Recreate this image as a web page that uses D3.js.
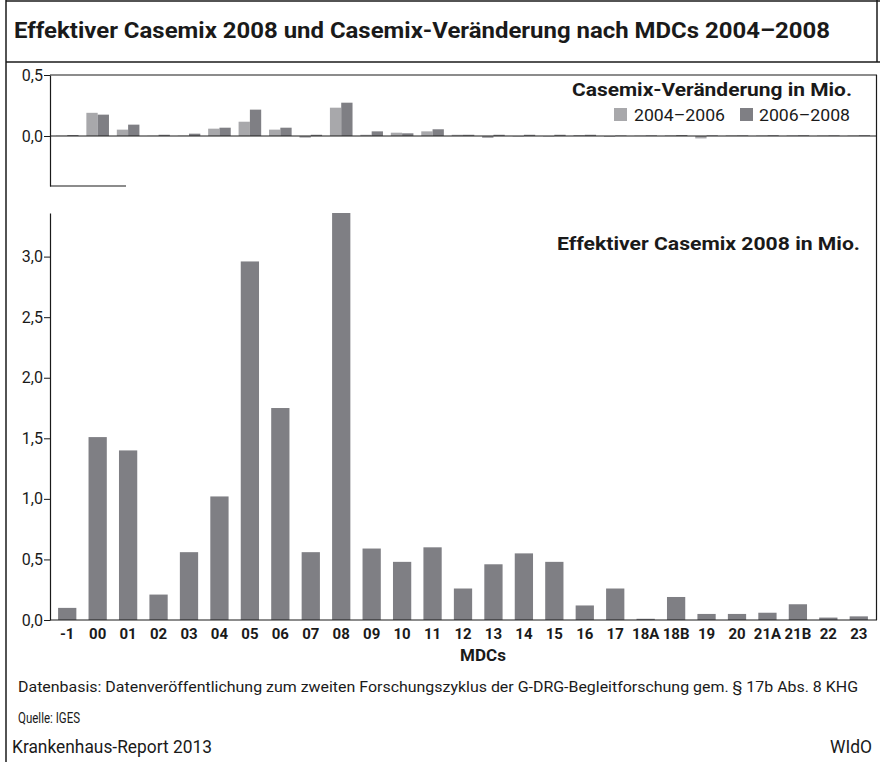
<!DOCTYPE html>
<html>
<head>
<meta charset="utf-8">
<script src="https://cdn.jsdelivr.net/npm/d3@7"></script>
<style>
  html, body { margin: 0; padding: 0; background: #fff; }
  svg { display: block; }
  text { font-family: Roboto, "Noto Sans", sans-serif; fill: #1a1a1a; }
</style>
</head>
<body>
<svg id="chart" width="880" height="762"></svg>
<script>
// MDC categories
const mdcs = ["-1","00","01","02","03","04","05","06","07","08","09","10","11","12","13","14","15","16","17","18A","18B","19","20","21A","21B","22","23"];
// Effective casemix 2008, in millions
const casemix2008 = [0.10,1.51,1.40,0.21,0.56,1.02,2.96,1.75,0.56,3.36,0.59,0.48,0.60,0.26,0.46,0.55,0.48,0.12,0.26,0.01,0.19,0.05,0.05,0.06,0.13,0.02,0.03];
// Casemix change, in millions
const change0406 = [0.002,0.19,0.052,0.002,0.003,0.06,0.117,0.052,-0.014,0.232,0.01,0.027,0.038,0.01,-0.016,-0.004,-0.004,0.008,-0.006,0.003,0.005,-0.02,0.005,0.004,0.005,0.004,0.004];
const change0608 = [0.008,0.175,0.093,0.01,0.019,0.068,0.216,0.068,0.01,0.273,0.038,0.022,0.055,0.01,0.01,0.01,0.01,0.01,0.004,0.005,0.008,0.005,0.005,0.006,0.006,0.005,0.006];
const periods = ["2004–2006", "2006–2008"];
const topTicks = [0, 0.5];
const bottomTicks = [0, 0.5, 1, 1.5, 2, 2.5, 3];

const colLight = "#a8a8ab", colDark = "#7f7f84", ink = "#1a1a1a";
const fmt = v => d3.format(".1f")(v).replace(".", ",");
const fam = "Roboto, 'Noto Sans', sans-serif";

const svg = d3.select("#chart");

// frame
const frame = svg.append("g").attr("stroke", ink).attr("fill", "none");
frame.append("line").attr("x1", 6).attr("x2", 880).attr("y1", 1).attr("y2", 1).attr("stroke-width", 1.5);
frame.append("line").attr("x1", 6).attr("x2", 6).attr("y1", 0).attr("y2", 762).attr("stroke-width", 1.5);
frame.append("line").attr("x1", 6).attr("x2", 880).attr("y1", 62).attr("y2", 62).attr("stroke-width", 1.5);
frame.append("line").attr("x1", 877).attr("x2", 877).attr("y1", 0).attr("y2", 62).attr("stroke-width", 1.5);
frame.append("line").attr("x1", 876.5).attr("x2", 876.5).attr("y1", 75).attr("y2", 620).attr("stroke-width", 1.2);

// title
svg.append("text").attr("x", 14).attr("y", 38)
  .attr("font-size", 22).attr("font-weight", "bold")
  .attr("textLength", 816).attr("lengthAdjust", "spacingAndGlyphs")
  .text("Effektiver Casemix 2008 und Casemix-Veränderung nach MDCs 2004–2008");

// shared category scale
const x = d3.scaleBand().domain(mdcs).range([52, 874]).paddingInner(0.4).paddingOuter(0.2);
const xc = d => x(d) + x.bandwidth() / 2;
const xPair = d3.scaleBand().domain(periods).range([-11.3, 11.3]);

// ---------- top panel: casemix change ----------
const yTop = d3.scaleLinear().domain([-0.41, 0.5]).range([186, 75]);
const topData = mdcs.map((m, i) => ({ m, vals: [change0406[i], change0608[i]] }));

const gTop = svg.append("g");
gTop.append("g").selectAll("g").data(topData).join("g")
  .attr("transform", d => `translate(${xc(d.m)},0)`)
  .selectAll("rect").data(d => d.vals.map((v, k) => ({ v, p: periods[k] }))).join("rect")
  .attr("x", d => xPair(d.p))
  .attr("width", xPair.bandwidth())
  .attr("y", d => yTop(Math.max(0, d.v)))
  .attr("height", d => Math.abs(yTop(d.v) - yTop(0)))
  .attr("fill", (d, k) => k === 0 ? colLight : colDark);

// horizontal rules at 0 and 0,5
gTop.selectAll("line.rule").data(topTicks).join("line").attr("class", "rule")
  .attr("x1", 50).attr("x2", 877).attr("y1", d => yTop(d)).attr("y2", d => yTop(d))
  .attr("stroke", ink).attr("stroke-width", 1.2);

const axTop = gTop.append("g").attr("transform", "translate(50,0)")
  .call(d3.axisLeft(yTop).tickValues(topTicks).tickSize(6).tickSizeOuter(0).tickFormat(fmt));
axTop.select(".domain").attr("stroke", ink).attr("stroke-width", 1.2);
axTop.selectAll(".tick line").attr("stroke", ink);
axTop.selectAll(".tick text").attr("font-size", 16).attr("x", -7).attr("fill", ink).style("font-family", fam);
gTop.append("line").attr("x1", 50).attr("x2", 126).attr("y1", 186).attr("y2", 186)
  .attr("stroke", ink).attr("stroke-width", 1.2);

// top panel heading and legend
svg.append("text").attr("x", 852).attr("y", 96).attr("text-anchor", "end")
  .attr("font-size", 18).attr("font-weight", "bold")
  .attr("textLength", 280).attr("lengthAdjust", "spacingAndGlyphs")
  .text("Casemix-Veränderung in Mio.");
const legendItems = [
  { label: periods[0], col: colLight, sx: 614, tx: 634 },
  { label: periods[1], col: colDark, sx: 740, tx: 759 }
];
const lg = svg.append("g").selectAll("g").data(legendItems).join("g");
lg.append("rect").attr("x", d => d.sx).attr("y", 108).attr("width", 13).attr("height", 13).attr("fill", d => d.col);
lg.append("text").attr("x", d => d.tx).attr("y", 121).attr("font-size", 17)
  .attr("textLength", 91).attr("lengthAdjust", "spacingAndGlyphs")
  .text(d => d.label);

// ---------- bottom panel: effective casemix 2008 ----------
const yBot = d3.scaleLinear().domain([0, d3.max(casemix2008)]).range([620, 213]);
const gBot = svg.append("g");
gBot.selectAll("rect").data(mdcs.map((m, i) => ({ m, v: casemix2008[i] }))).join("rect")
  .attr("x", d => x(d.m)).attr("width", x.bandwidth())
  .attr("y", d => yBot(d.v)).attr("height", d => yBot(0) - yBot(d.v))
  .attr("fill", colDark);

const axBotY = gBot.append("g").attr("transform", "translate(50,0)")
  .call(d3.axisLeft(yBot).tickValues(bottomTicks).tickSize(6).tickSizeOuter(0).tickFormat(fmt));
axBotY.select(".domain").attr("stroke", ink).attr("stroke-width", 1.2);
axBotY.selectAll(".tick line").attr("stroke", ink);
axBotY.selectAll(".tick text").attr("font-size", 16).attr("x", -7).attr("fill", ink).style("font-family", fam);

const axBotX = gBot.append("g").attr("transform", "translate(0,620)")
  .call(d3.axisBottom(x).tickSize(0).tickSizeOuter(0));
axBotX.select(".domain").remove();
gBot.append("line").attr("x1", 50).attr("x2", 877).attr("y1", 620).attr("y2", 620)
  .attr("stroke", ink).attr("stroke-width", 1.2);
axBotX.selectAll(".tick text").attr("font-size", 15).attr("font-weight", "bold")
  .attr("dy", "0").attr("y", 19).attr("fill", ink).style("font-family", fam);

svg.append("text").attr("x", 483).attr("y", 661).attr("text-anchor", "middle")
  .attr("font-size", 17).attr("font-weight", "bold").text("MDCs");

svg.append("text").attr("x", 860).attr("y", 250).attr("text-anchor", "end")
  .attr("font-size", 18).attr("font-weight", "bold")
  .attr("textLength", 303).attr("lengthAdjust", "spacingAndGlyphs")
  .text("Effektiver Casemix 2008 in Mio.");

// footer
svg.append("text").attr("x", 18).attr("y", 692).attr("font-size", 15)
  .attr("textLength", 840).attr("lengthAdjust", "spacingAndGlyphs")
  .text("Datenbasis: Datenveröffentlichung zum zweiten Forschungszyklus der G-DRG-Begleitforschung gem. § 17b Abs. 8 KHG");
svg.append("text").attr("x", 18).attr("y", 723).attr("font-size", 15)
  .attr("textLength", 62).attr("lengthAdjust", "spacingAndGlyphs")
  .text("Quelle: IGES");
svg.append("text").attr("x", 12).attr("y", 753).attr("font-size", 19)
  .attr("textLength", 200).attr("lengthAdjust", "spacingAndGlyphs")
  .text("Krankenhaus-Report 2013");
svg.append("text").attr("x", 872).attr("y", 753).attr("text-anchor", "end").attr("font-size", 18)
  .attr("textLength", 42).attr("lengthAdjust", "spacingAndGlyphs")
  .text("WIdO");
</script>
</body>
</html>
